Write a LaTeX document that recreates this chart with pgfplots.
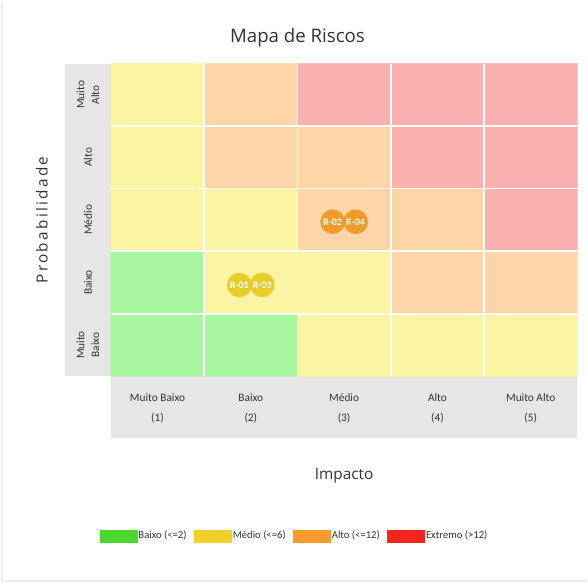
\documentclass[border=0pt]{standalone}
\usepackage{pgfplots}
\pgfplotsset{compat=1.18}
\usetikzlibrary{backgrounds}
\usepackage{fontspec}
\setmainfont{Open Sans}
\newfontfamily\lblfont{Carlito}
\definecolor{cgray}{RGB}{230,230,230}
\definecolor{bOrange}{RGB}{243,154,43}
\definecolor{bYellow}{RGB}{232,204,42}
\definecolor{lgreen}{RGB}{76,214,46}
\definecolor{lyellow}{RGB}{240,208,42}
\definecolor{lorange}{RGB}{249,154,45}
\definecolor{lred}{RGB}{245,38,31}
\definecolor{txt}{RGB}{51,51,51}
\pgfplotstableread{
x y c
1 1 1
2 1 1
3 1 2
4 1 2
5 1 2
1 2 1
2 2 2
3 2 2
4 2 3
5 2 3
1 3 2
2 3 2
3 3 3
4 3 3
5 3 4
1 4 2
2 4 3
3 4 3
4 4 4
5 4 4
1 5 2
2 5 3
3 5 4
4 5 4
5 5 4
}\cells
\pgfplotstableread{
x y label
2.877 2.97 R-02
3.123 2.97 R-04
}\highrisks
\pgfplotstableread{
x y label
1.877 1.96 R-01
2.123 1.96 R-03
}\midrisks
\begin{document}
\begin{tikzpicture}[x=0.75pt,y=0.75pt]
\begin{axis}[
  name=ax,
  at={(0,0)}, anchor=south west,
  scale only axis, width=350.25pt, height=234.75pt,
  xmin=0.5, xmax=5.5, ymin=0.5, ymax=5.5,
  axis line style={draw=none},
  major tick length=0pt, minor tick length=0pt,
  xtick={1,2,3,4,5},
  xticklabels={{Muito Baixo\\(1)},{Baixo\\(2)},{Médio\\(3)},{Alto\\(4)},{Muito Alto\\(5)}},
  ytick={1,2,3,4,5},
  yticklabels={{Muito\\Baixo},{Baixo},{Médio},{Alto},{Muito\\Alto}},
  xticklabel style={font=\lblfont\fontsize{8.5}{15}\selectfont, text=txt, align=center, anchor=center, yshift=-24pt},
  yticklabel style={font=\lblfont\fontsize{8.5}{11}\selectfont, text=txt, align=center, xshift=-17.25pt, rotate=90, anchor=center},
  minor xtick={1.5,2.5,3.5,4.5},
  minor ytick={1.5,2.5,3.5,4.5},
  xminorgrids, yminorgrids,
  minor grid style={white, line width=1.2pt},
  axis on top,
  colormap={risk}{rgb255=(168,247,160) rgb255=(251,245,163) rgb255=(252,214,168) rgb255=(249,176,176)},
  point meta min=1, point meta max=4,
  clip=false,
  title={Mapa de Riscos},
  title style={at={(axis description cs:0.4,1.0895)}, anchor=center, yshift=-7.5pt, font=\fontsize{14}{16}\selectfont, text=txt},
  xlabel={Impacto},
  xlabel style={at={(axis description cs:0.5,-0.32)}, anchor=center, font=\fontsize{11.5}{13}\selectfont, text=txt},
  ylabel={\addfontfeatures{LetterSpace=15}Probabilidade},
  ylabel style={at={(axis description cs:-0.148,0.5)}, anchor=center, font=\fontsize{11.5}{13}\selectfont, text=txt},
  legend columns=4,
  legend style={at={(axis description cs:0.393,-0.511)}, anchor=center, draw=none, fill=none,
    font=\lblfont\fontsize{8}{9}\selectfont, text=txt,
    /tikz/every even column/.append style={column sep=4.5pt},
    inner xsep=0pt, nodes={inner xsep=1pt}},
  legend image code/.code={\fill[#1] (0pt,-4.5pt) rectangle (27.75pt,4.5pt);},
]
\addplot[matrix plot*, mesh/cols=5, point meta=explicit, forget plot] table[meta=c]{\cells};
\addplot[only marks, mark=*, mark size=9pt, mark options={draw=bOrange, fill=bOrange},
  nodes near coords, point meta=explicit symbolic,
  nodes near coords style={anchor=center, font=\lblfont\bfseries\fontsize{7.5}{8}\selectfont, text=white, inner sep=0pt},
  forget plot] table[meta=label]{\highrisks};
\addplot[only marks, mark=*, mark size=9pt, mark options={draw=bYellow, fill=bYellow},
  nodes near coords, point meta=explicit symbolic,
  nodes near coords style={anchor=center, font=\lblfont\bfseries\fontsize{7.5}{8}\selectfont, text=white, inner sep=0pt},
  forget plot] table[meta=label]{\midrisks};
\addlegendimage{lgreen}\addlegendentry{Baixo (<=2)}
\addlegendimage{lyellow}\addlegendentry{Médio (<=6)}
\addlegendimage{lorange}\addlegendentry{Alto (<=12)}
\addlegendimage{lred}\addlegendentry{Extremo (>12)}
\end{axis}
\begin{scope}[on background layer, shift={(ax.south west)}]
\fill[cgray] (-46,0) rectangle (0,313);
\fill[cgray] (0,-62) rectangle (467,0);
\draw[gray!15, line width=1pt] (-109,376) -- (-109,-205) -- (477,-205);
\path (-111,-209) rectangle (477,376);
\end{scope}
\end{tikzpicture}
\end{document}
